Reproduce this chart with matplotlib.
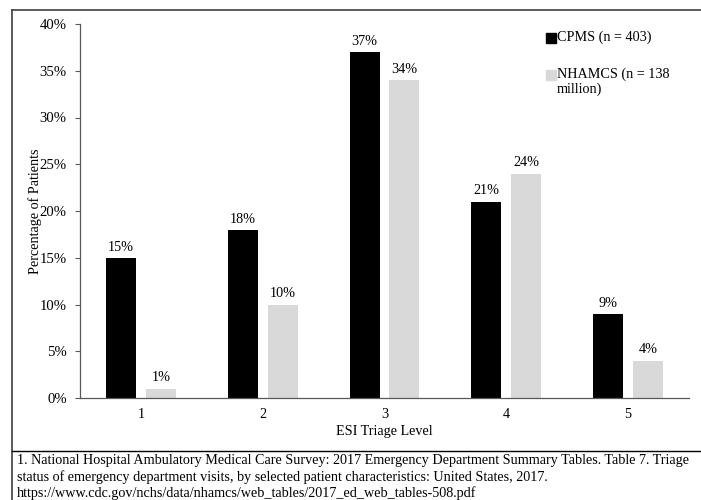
import matplotlib
matplotlib.use("Agg")
import matplotlib.pyplot as plt
import numpy as np
from matplotlib.lines import Line2D
from matplotlib.patches import Rectangle

plt.rcParams['font.family'] = ['Liberation Serif', 'DejaVu Serif']

levels = ["1", "2", "3", "4", "5"]
cpms = [15, 18, 37, 21, 9]
nhamcs = [1, 10, 34, 24, 4]
series_names = ["CPMS (n = 403)", "NHAMCS (n = 138\nmillion)"]
footnote = ("1. National Hospital Ambulatory Medical Care Survey: 2017 Emergency Department Summary Tables. Table 7. Triage\n"
            "status of emergency department visits, by selected patient characteristics: United States, 2017.\n"
            "https://www.cdc.gov/nchs/data/nhamcs/web_tables/2017_ed_web_tables-508.pdf")

W, H = 701, 500
FS = 10.2
fig = plt.figure(figsize=(W / 100, H / 100), dpi=100)
ax = fig.add_axes([80 / W, 1 - 398 / H, 609 / W, 374 / H])

x = np.arange(len(levels))
bw = 0.246
off = 0.164
b1 = ax.bar(x - off, cpms, bw, color="black")
b2 = ax.bar(x + off, nhamcs, bw, color="#d9d9d9")

for bars, vals in ((b1, cpms), (b2, nhamcs)):
    for b, v in zip(bars, vals):
        ax.annotate(f"{v}%", (b.get_x() + b.get_width() / 2, v), xytext=(0, 3),
                    textcoords="offset points", ha="center", va="bottom", fontsize=FS)

ax.set_xlim(-0.5, 4.5)
ax.set_ylim(0, 40)
ax.set_yticks(range(0, 41, 5))
ax.set_yticklabels([f"{t}%" for t in range(0, 41, 5)])
ax.set_xticks(x)
ax.set_xticklabels(levels)
ax.tick_params(axis="x", length=0, pad=7, labelsize=FS)
ax.tick_params(axis="y", length=3.6, width=0.8, color="#595959", pad=6, labelsize=10.6)
for s in ("top", "right"):
    ax.spines[s].set_visible(False)
for s in ("left", "bottom"):
    ax.spines[s].set_color("#595959")
    ax.spines[s].set_linewidth(0.9)
ax.set_xlabel("ESI Triage Level", fontsize=FS, labelpad=3)
ax.set_ylabel("Percentage of Patients", fontsize=FS)
ax.yaxis.set_label_coords(-0.0624, 0.5)

# legend drawn by hand so the square sits on the first text line
for i, (name, col) in enumerate(zip(series_names, ["black", "#d9d9d9"])):
    yc = 1 - (38 + 37 * i) / H
    fig.add_artist(Rectangle((546 / W, yc - 5 / H), 10 / W, 10 / H, transform=fig.transFigure,
                             color=col))
    fig.text(557 / W, yc + 7 / H, name, fontsize=FS, va="top", ha="left", linespacing=1.12)

# frame lines
fig.add_artist(Line2D([12 / W, 1], [1 - 10 / H] * 2, color="#404040", lw=1.2))
fig.add_artist(Line2D([12 / W, 12 / W], [0, 1 - 10 / H], color="#404040", lw=1.2))
fig.add_artist(Line2D([12 / W, 1], [1 - 451 / H] * 2, color="black", lw=1.0))

fig.text(17 / W, 1 - 454 / H, footnote, fontsize=FS, va="top", ha="left", linespacing=1.27)

fig.savefig("out.png", dpi=100)
